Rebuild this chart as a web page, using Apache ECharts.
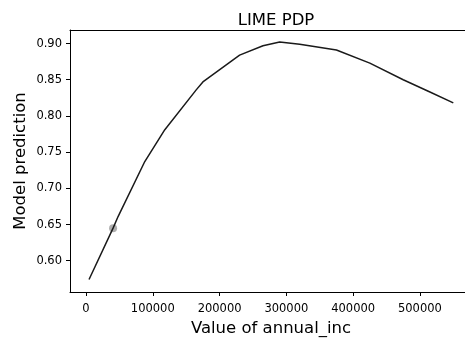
<!DOCTYPE html>
<html>
<head>
<meta charset="utf-8">
<script src="https://cdn.jsdelivr.net/npm/echarts@6/dist/echarts.min.js"></script>
<style>
  html, body { margin: 0; padding: 0; background: #fff; }
  #chart { width: 465px; height: 339px; }
</style>
</head>
<body>
<div id="chart"></div>
<script>
// Partial dependence of the model prediction on annual income
const incomeValues = [4500, 40500, 48000, 88000, 118000, 165000, 175000, 230000, 265000, 290000, 320000, 375000, 425000, 475000, 515000, 550000];
const predictionValues = [0.574, 0.645, 0.661, 0.737, 0.781, 0.836, 0.847, 0.884, 0.897, 0.902, 0.899, 0.891, 0.873, 0.850, 0.833, 0.818];

// Highlighted instance
const instanceIncome = [40500];
const instancePrediction = [0.645];

const xTicks = [0, 100000, 200000, 300000, 400000, 500000];
const yTicks = [0.60, 0.65, 0.70, 0.75, 0.80, 0.85, 0.90];

const font = 'DejaVu Sans';
const xMin = -24000, xMax = 578000;
const frameLine = { show: true, onZero: false, lineStyle: { color: '#000', width: 1 } };

const chart = echarts.init(document.getElementById('chart'), null, { renderer: 'canvas' });

chart.setOption({
  animation: false,
  backgroundColor: '#fff',
  title: {
    text: 'LIME PDP',
    left: 271,
    top: 7,
    textAlign: 'center',
    textStyle: { fontFamily: font, fontSize: 16.5, fontWeight: 'normal', color: '#000' }
  },
  grid: {
    left: 70, top: 30, width: 402, bottom: 47,
    containLabel: false,
    outerBoundsMode: 'none',
    show: false
  },
  xAxis: [
    {
      type: 'value',
      position: 'bottom',
      min: xMin,
      max: xMax,
      name: 'Value of annual_inc',
      nameLocation: 'middle',
      nameGap: 24,
      nameTextStyle: { fontFamily: font, fontSize: 16.5, color: '#000' },
      axisLine: frameLine,
      splitLine: { show: false },
      axisTick: { show: true, customValues: xTicks, length: 4, lineStyle: { color: '#000' } },
      axisLabel: {
        customValues: xTicks, margin: 11, fontFamily: font, fontSize: 11.5, color: '#000',
        formatter: v => String(v)
      }
    },
    {
      // top edge of the frame
      type: 'value',
      position: 'top',
      min: xMin,
      max: xMax,
      axisLine: frameLine,
      axisTick: { show: false },
      axisLabel: { show: false },
      splitLine: { show: false }
    }
  ],
  yAxis: {
    type: 'value',
    min: 0.5568,
    max: 0.9187,
    name: 'Model prediction',
    nameLocation: 'middle',
    nameGap: 41,
    nameMoveOverlap: false,
    nameTextStyle: { fontFamily: font, fontSize: 16.5, color: '#000' },
    axisLine: frameLine,
    splitLine: { show: false },
    axisTick: { show: true, customValues: yTicks, length: 4, lineStyle: { color: '#000' } },
    axisLabel: {
      customValues: yTicks, margin: 8, fontFamily: font, fontSize: 11.5, color: '#000',
      formatter: v => v.toFixed(2)
    }
  },
  series: [
    {
      type: 'line',
      data: incomeValues.map((x, i) => [x, predictionValues[i]]),
      showSymbol: false,
      smooth: false,
      lineStyle: { color: '#1a1a1a', width: 1.5 }
    },
    {
      type: 'scatter',
      data: instanceIncome.map((x, i) => [x, instancePrediction[i]]),
      symbolSize: 8,
      itemStyle: { color: 'rgba(120,120,120,0.75)' }
    }
  ]
});
</script>
</body>
</html>
